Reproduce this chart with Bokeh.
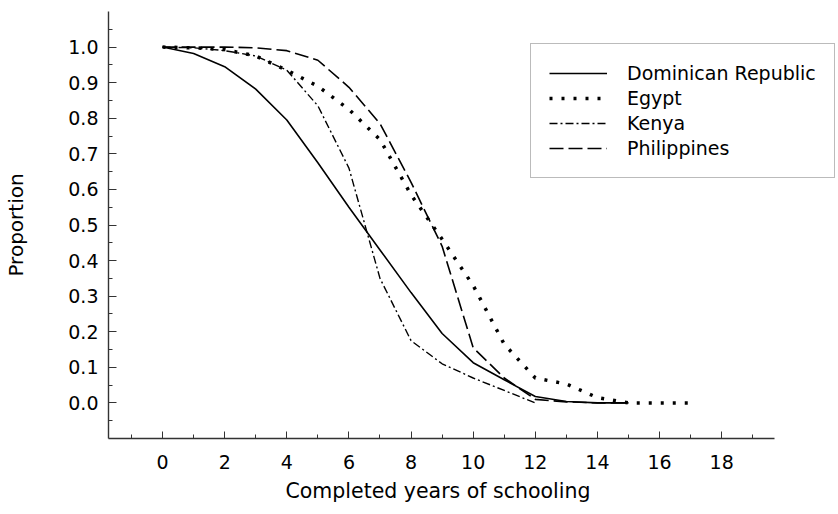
from bokeh.plotting import figure
from bokeh.models import (FixedTicker, Range1d, Legend, LegendItem,
                          PrintfTickFormatter, Title, LinearAxis)
from bokeh.embed import file_html
from bokeh.resources import INLINE

# Proportion of children still in school by completed years of schooling
years_dr = list(range(0, 16))
dominican_republic = [1.0, 0.982, 0.945, 0.882, 0.795, 0.675, 0.55, 0.43,
                      0.31, 0.195, 0.113, 0.065, 0.018, 0.004, 0.0, 0.0]

years_eg = list(range(0, 18))
egypt = [1.0, 0.998, 0.993, 0.975, 0.935, 0.89, 0.825, 0.74, 0.585,
         0.46, 0.33, 0.165, 0.07, 0.053, 0.015, 0.0, 0.0, 0.0]

years_ke = list(range(0, 13))
kenya = [1.0, 0.998, 0.99, 0.975, 0.935, 0.835, 0.66, 0.35, 0.175,
         0.11, 0.07, 0.035, 0.0]

years_ph = list(range(0, 16))
philippines = [1.0, 1.0, 1.0, 0.998, 0.99, 0.963, 0.887, 0.785, 0.62,
               0.44, 0.155, 0.07, 0.01, 0.003, 0.0, 0.0]

x_major = [0, 2, 4, 6, 8, 10, 12, 14, 16, 18]
x_minor = [-1, 1, 3, 5, 7, 9, 11, 13, 15, 17, 19]
y_major = [0.0, 0.1, 0.2, 0.3, 0.4, 0.5, 0.6, 0.7, 0.8, 0.9, 1.0]
y_minor = [-0.05, 0.05, 0.15, 0.25, 0.35, 0.45, 0.55, 0.65, 0.75, 0.85, 0.95, 1.05]

FONT = "DejaVu Sans"
X_AXIS_EXTENT = (-1.74, 19.70)

p = figure(width=838, height=514, output_backend="svg", toolbar_location=None,
           x_range=Range1d(-1.74, 21.76), y_range=Range1d(-0.1, 1.1),
           min_border_left=107, min_border_right=0,
           min_border_top=11, min_border_bottom=76)
p.outline_line_color = None
p.xgrid.grid_line_color = None
p.ygrid.grid_line_color = None
p.background_fill_color = "white"
p.border_fill_color = "white"

r_dr = p.line(years_dr, dominican_republic, line_color="black", line_width=1.6)
r_eg = p.line(years_eg, egypt, line_color="black", line_width=3.5,
              line_dash="3 9", line_cap="butt")
r_ke = p.line(years_ke, kenya, line_color="black", line_width=1.4,
              line_dash="8 3 2 3")
r_ph = p.line(years_ph, philippines, line_color="black", line_width=1.6,
              line_dash="14 5")

for ax in (p.xaxis[0], p.yaxis[0]):
    ax.axis_line_color = "#333333"
    ax.axis_line_width = 1.4
    ax.major_tick_line_color = "#333333"
    ax.minor_tick_line_color = "#333333"
    ax.major_tick_out = 0
    ax.minor_tick_out = 0
    ax.major_label_text_font = FONT
    ax.major_label_text_font_size = "19px"
    ax.major_label_text_color = "black"

# the horizontal axis line stops short of the legend's right edge
p.xaxis.bounds = X_AXIS_EXTENT
p.xaxis.ticker = FixedTicker(ticks=x_major, minor_ticks=x_minor)
p.xaxis.major_tick_in = 7
p.xaxis.minor_tick_in = 4
p.xaxis.major_label_standoff = 16

p.yaxis.ticker = FixedTicker(ticks=y_major, minor_ticks=y_minor)
p.yaxis.formatter = PrintfTickFormatter(format="%.1f")
p.yaxis.major_tick_in = 8
p.yaxis.minor_tick_in = 4
p.yaxis.major_label_standoff = 10

# horizontal axis title, centred under the drawn part of the axis
x_title = Title(text="Completed years of schooling", align="left", offset=177,
                vertical_align="top", standoff=14,
                text_font=FONT, text_font_size="20.5px",
                text_font_style="normal", text_color="black")
p.add_layout(x_title, "below")

# a bare axis that only carries the vertical title
y_title_axis = LinearAxis(ticker=FixedTicker(ticks=[]),
                          axis_label="Proportion", axis_label_standoff=38,
                          axis_line_color=None,
                          major_tick_in=0, major_tick_out=0,
                          minor_tick_in=0, minor_tick_out=0,
                          axis_label_text_font=FONT,
                          axis_label_text_font_size="20px",
                          axis_label_text_font_style="normal",
                          axis_label_text_color="black")
p.add_layout(y_title_axis, "left")

legend = Legend(items=[
    LegendItem(label="Dominican Republic", renderers=[r_dr]),
    LegendItem(label="Egypt", renderers=[r_eg]),
    LegendItem(label="Kenya", renderers=[r_ke]),
    LegendItem(label="Philippines", renderers=[r_ph]),
], location=(422, 260))
legend.label_text_font = FONT
legend.label_text_font_size = "19px"
legend.label_text_color = "black"
legend.glyph_width = 58
legend.glyph_height = 20
legend.label_height = 20
legend.spacing = 3
legend.padding = 18
legend.label_standoff = 20
legend.margin = 0
legend.border_line_color = "#777777"
legend.border_line_width = 1
legend.background_fill_color = "white"
legend.background_fill_alpha = 1.0
p.add_layout(legend, "center")

open("out.html", "w").write(file_html(p, INLINE))
